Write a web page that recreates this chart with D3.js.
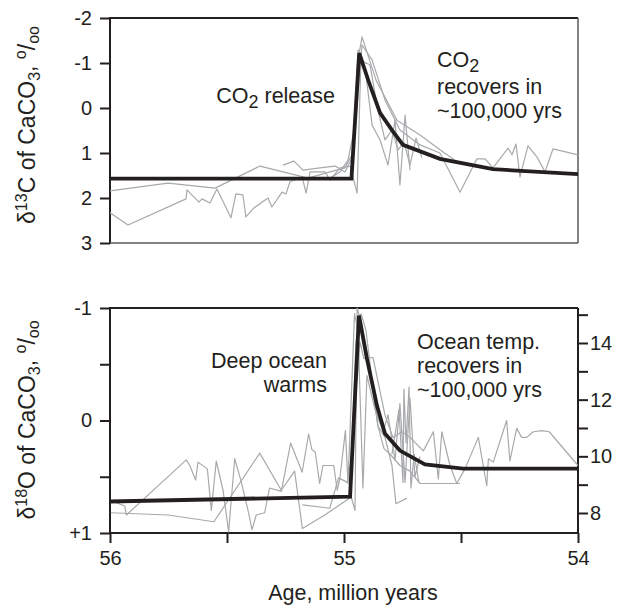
<!DOCTYPE html>
<html lang="en">
<head>
<meta charset="UTF-8">
<script src="https://d3js.org/d3.v7.min.js"></script>
<style>
  body { margin: 0; background: #fff; }
  svg { display: block; font-family: "Liberation Sans", Arial, Helvetica, sans-serif; }
  .tick text { font-size: 20px; fill: #231f20; }
  .tick line { stroke: #231f20; stroke-width: 2; }
  .gray { fill: none; stroke: #a7a9ac; stroke-width: 1.2; stroke-linejoin: round; }
  .model { fill: none; stroke: #231f20; stroke-width: 3.8; stroke-linejoin: miter; }
  .label { font-size: 21.5px; fill: #231f20; }
</style>
</head>
<body>
<script>
// ---- data : [age in Ma, value] ----
// carbon isotopes (top panel)
var c13Model = [[56, 1.57], [54.968, 1.57], [54.935, -1.22], [54.892, -0.55], [54.846, 0.11],
    [54.795, 0.49], [54.748, 0.82], [54.59, 1.13], [54.363, 1.36], [54.0, 1.47]];

var c13RecA = [[56.000, 1.84], [55.752, 1.67], [55.551, 1.78], [55.359, 1.29], [55.154, 1.56],
    [55.060, 1.42], [54.996, 1.33], [54.966, 1.04], [54.940, -1.07], [54.923, -1.58], [54.863, -0.62],
    [54.774, 0.27], [54.675, 0.60], [54.590, 0.93], [54.526, 1.16], [54.462, 1.29]];

var c13RecB = [[56.000, 2.33], [55.923, 2.60], [55.675, 2.02], [55.671, 1.82], [55.620, 2.09],
    [55.607, 2.02], [55.573, 2.11], [55.543, 1.80], [55.483, 2.44], [55.462, 1.91], [55.432, 1.93],
    [55.419, 2.42], [55.385, 2.22], [55.325, 2.00], [55.308, 2.20], [55.265, 1.87], [55.248, 1.91],
    [55.231, 1.64], [55.179, 1.53], [55.162, 1.89], [55.145, 1.42], [55.081, 1.42], [55.060, 1.60],
    [55.017, 1.33], [54.974, 1.29], [54.944, 1.89], [54.927, -1.18], [54.906, -0.73], [54.880, 0.38],
    [54.846, 0.71], [54.812, 1.27], [54.782, 0.27], [54.761, 1.71], [54.739, 0.16], [54.718, 1.38]];

var c13RecC = [[55.261, 1.27], [55.214, 1.18], [55.175, 1.38], [55.103, 1.33], [55.038, 1.29],
    [54.996, 1.42], [54.966, 1.11], [54.949, 0.27], [54.923, -1.40], [54.880, -1.07], [54.825, -0.18],
    [54.761, 0.49], [54.675, 0.82], [54.590, 1.00], [54.504, 1.87], [54.432, 1.13], [54.397, 1.13],
    [54.363, 1.33], [54.299, 0.89], [54.282, 1.04], [54.265, 0.80], [54.248, 1.53], [54.214, 0.84],
    [54.175, 1.09], [54.141, 1.42], [54.107, 0.91], [54.000, 1.04]];

var c13RecD = [[55.060, 1.56], [55.017, 1.42], [54.983, 1.16], [54.957, 0.49], [54.940, -1.29],
    [54.915, -1.02], [54.889, -0.96], [54.855, 0.04], [54.825, 0.71], [54.795, 0.49], [54.769, 0.93],
    [54.744, 0.76], [54.718, 1.27], [54.692, 0.67], [54.667, 1.11]];

// oxygen isotopes (bottom panel)
var o18Model = [[56, 0.72], [54.974, 0.676], [54.936, -0.933], [54.902, -0.55], [54.859, -0.13],
    [54.825, 0.116], [54.761, 0.267], [54.654, 0.391], [54.491, 0.427], [54.0, 0.427]];

var o18RecA = [[55.997, 0.71], [55.937, 0.76], [55.930, 0.84], [55.674, 0.35], [55.659, 0.40],
    [55.634, 0.53], [55.624, 0.37], [55.584, 0.43], [55.567, 0.80], [55.546, 0.36], [55.517, 0.62],
    [55.493, 0.99], [55.467, 0.34], [55.441, 0.53], [55.410, 0.80], [55.393, 0.97], [55.375, 0.84],
    [55.339, 0.82], [55.318, 0.60], [55.268, 0.63], [55.228, 0.20], [55.179, 0.46], [55.151, 0.12],
    [55.137, 0.26], [55.123, 0.28], [55.104, 0.56], [55.090, 0.40], [55.044, 0.40], [55.029, 0.62],
    [55.018, 0.52], [54.994, 0.09], [54.983, 0.56], [54.971, -0.09], [54.955, -0.95], [54.940, -0.80],
    [54.919, 0.60], [54.902, -0.40], [54.868, -0.10], [54.833, 0.10], [54.812, -0.05], [54.782, 0.35],
    [54.761, -0.15], [54.739, 0.55], [54.718, -0.20], [54.697, 0.50], [54.675, 0.32]];

var o18RecB = [[55.997, 0.82], [55.752, 0.84], [55.556, 0.90], [55.360, 0.29], [55.268, 0.62],
    [55.211, 0.45], [55.178, 0.96], [55.082, 0.84], [54.969, 0.68], [54.953, 0.80], [54.944, -1.00],
    [54.923, -0.85], [54.889, -0.45], [54.855, 0.05], [54.829, 0.25], [54.803, 0.30], [54.761, 0.40],
    [54.718, 0.45], [54.675, 0.56], [54.590, 0.56], [54.504, 0.56]];

var o18RecC = [[55.178, 0.75], [55.061, 0.78], [55.023, 0.51], [54.986, 0.55], [54.966, 0.30],
    [54.949, -0.70], [54.927, -0.95], [54.906, -0.80], [54.880, -0.35], [54.855, 0.05], [54.825, 0.15],
    [54.795, 0.40], [54.778, 0.74], [54.731, 0.69]];

var o18RecD = [[54.944, -0.35], [54.932, -0.70], [54.915, -0.55], [54.876, -0.56], [54.825, -0.05],
    [54.791, 0.15], [54.752, 0.10], [54.718, 0.15], [54.661, 0.27], [54.618, 0.10], [54.597, 0.52],
    [54.582, 0.10], [54.547, 0.40], [54.518, 0.56], [54.483, 0.43], [54.426, 0.15], [54.390, 0.58],
    [54.383, 0.34], [54.362, 0.37], [54.305, 0.00], [54.291, 0.36], [54.262, 0.07], [54.241, 0.15],
    [54.219, 0.15], [54.191, 0.10], [54.155, 0.09], [54.123, 0.10], [54.000, 0.40]];

var o18RecE = [[54.795, 0.30], [54.765, -0.10], [54.748, 0.55], [54.744, -0.28], [54.735, 0.20],
    [54.722, -0.30], [54.714, 0.60], [54.700, 0.30], [54.680, 0.55]];

// ticks
var ageTicks = [56, 55.5, 55, 54.5, 54];
var c13Ticks = [-2, -1, 0, 1, 2, 3];
var o18Ticks = [-1, -0.5, 0, 0.5, 1];
var tempTicks = [8, 9, 10, 11, 12, 13, 14, 15];

var width = 618, height = 608;
var left = 110, right = 578;

var svg = d3.select("body").append("svg")
    .attr("width", width)
    .attr("height", height);

var x = d3.scaleLinear().domain([56, 54]).range([left, right]);
var yTop = d3.scaleLinear().domain([-2, 3]).range([18, 243]);
var yBot = d3.scaleLinear().domain([-1, 1]).range([308, 533]);
// temperature scale on the right, matched to the d18O scale
var yTemp = d3.scaleLinear().domain([7.294, 15.235]).range([533, 308]);

// frames
function frame(y0, y1, lightSides) {
    var dark = "#231f20", light = "#58595b";
    svg.append("line").attr("x1", left).attr("x2", right).attr("y1", y0).attr("y2", y0)
        .attr("stroke", dark).attr("stroke-width", 2);
    svg.append("line").attr("x1", left).attr("x2", left).attr("y1", y0 - 1).attr("y2", y1 + 1)
        .attr("stroke", dark).attr("stroke-width", 2);
    svg.append("line").attr("x1", right).attr("x2", right).attr("y1", y0).attr("y2", y1)
        .attr("stroke", lightSides ? light : dark).attr("stroke-width", lightSides ? 1.5 : 2);
    svg.append("line").attr("x1", left).attr("x2", right).attr("y1", y1).attr("y2", y1)
        .attr("stroke", lightSides ? light : dark).attr("stroke-width", lightSides ? 1.5 : 2);
}
frame(18, 243, true);
frame(308, 533, false);

// axes
svg.append("g").attr("transform", "translate(" + left + ",0)")
    .call(d3.axisLeft(yTop).tickValues(c13Ticks).tickSize(10).tickPadding(8).tickSizeOuter(0)
        .tickFormat(function (d) { return String(d); }));

svg.append("g").attr("transform", "translate(" + left + ",0)")
    .call(d3.axisLeft(yBot).tickValues(o18Ticks).tickSize(10).tickPadding(8).tickSizeOuter(0)
        .tickFormat(function (d) { return d === -1 ? "-1" : d === 0 ? "0" : d === 1 ? "+1" : ""; }));

svg.append("g").attr("transform", "translate(" + right + ",0)")
    .call(d3.axisRight(yTemp).tickValues(tempTicks).tickSize(10).tickPadding(2).tickSizeOuter(0)
        .tickFormat(function (d) { return d % 2 === 0 ? String(d) : ""; }));

svg.append("g").attr("transform", "translate(0,533)")
    .call(d3.axisBottom(x).tickValues(ageTicks).tickSize(10).tickPadding(8).tickSizeOuter(0)
        .tickFormat(function (d) { return Number.isInteger(d) ? String(d) : ""; }));

svg.selectAll(".domain").remove();

// lines
var lineTop = d3.line().x(function (d) { return x(d[0]); }).y(function (d) { return yTop(d[1]); });
var lineBot = d3.line().x(function (d) { return x(d[0]); }).y(function (d) { return yBot(d[1]); });

[c13RecA, c13RecB, c13RecC, c13RecD].forEach(function (rec) {
    svg.append("path").datum(rec).attr("class", "gray").attr("d", lineTop);
});
svg.append("path").datum(c13Model).attr("class", "model").attr("d", lineTop);

[o18RecA, o18RecB, o18RecC, o18RecD, o18RecE].forEach(function (rec) {
    svg.append("path").datum(rec).attr("class", "gray").attr("d", lineBot);
});
svg.append("path").datum(o18Model).attr("class", "model").attr("d", lineBot);

// text with sub/superscripts: parts = [text, shift(px), size]
function rich(sel, parts) {
    var prev = 0;
    parts.forEach(function (p) {
        var shift = p[1] || 0;
        var t = sel.append("tspan").attr("dy", shift - prev).text(p[0]);
        if (p[2]) t.style("font-size", p[2] + "px");
        prev = shift;
    });
}

// axis titles
var tTop = svg.append("text").attr("class", "label").style("font-size", "23px")
    .attr("text-anchor", "middle").attr("transform", "translate(35,125) rotate(-90)");
rich(tTop, [["\u03b4"], ["13", -8, 16], ["C of CaCO", 0], ["3", 5, 16], [", ", 0],
    ["o", -9, 16], ["/", 0], ["oo", 4, 16]]);

var tBot = svg.append("text").attr("class", "label").style("font-size", "23px")
    .attr("text-anchor", "middle").attr("transform", "translate(35,420) rotate(-90)");
rich(tBot, [["\u03b4"], ["18", -8, 16], ["O of CaCO", 0], ["3", 5, 16], [", ", 0],
    ["o", -9, 16], ["/", 0], ["oo", 4, 16]]);

svg.append("text").attr("class", "label").attr("x", 353).attr("y", 600)
    .attr("text-anchor", "middle").text("Age, million years");

// annotations
var a1 = svg.append("text").attr("class", "label").attr("x", 335).attr("y", 103).attr("text-anchor", "end");
rich(a1, [["CO"], ["2", 5, 18], [" release", 0]]);

var a2 = svg.append("text").attr("class", "label").attr("x", 437).attr("y", 67);
rich(a2, [["CO"], ["2", 5, 18]]);
svg.append("text").attr("class", "label").attr("x", 437).attr("y", 94).text("recovers in");
svg.append("text").attr("class", "label").attr("x", 437).attr("y", 118).text("~100,000 yrs");

svg.append("text").attr("class", "label").attr("x", 327).attr("y", 368).attr("text-anchor", "end").text("Deep ocean");
svg.append("text").attr("class", "label").attr("x", 327).attr("y", 392).attr("text-anchor", "end").text("warms");

svg.append("text").attr("class", "label").attr("x", 417).attr("y", 349).text("Ocean temp.");
svg.append("text").attr("class", "label").attr("x", 417).attr("y", 373).text("recovers in");
svg.append("text").attr("class", "label").attr("x", 417).attr("y", 397).text("~100,000 yrs");
</script>
</body>
</html>
